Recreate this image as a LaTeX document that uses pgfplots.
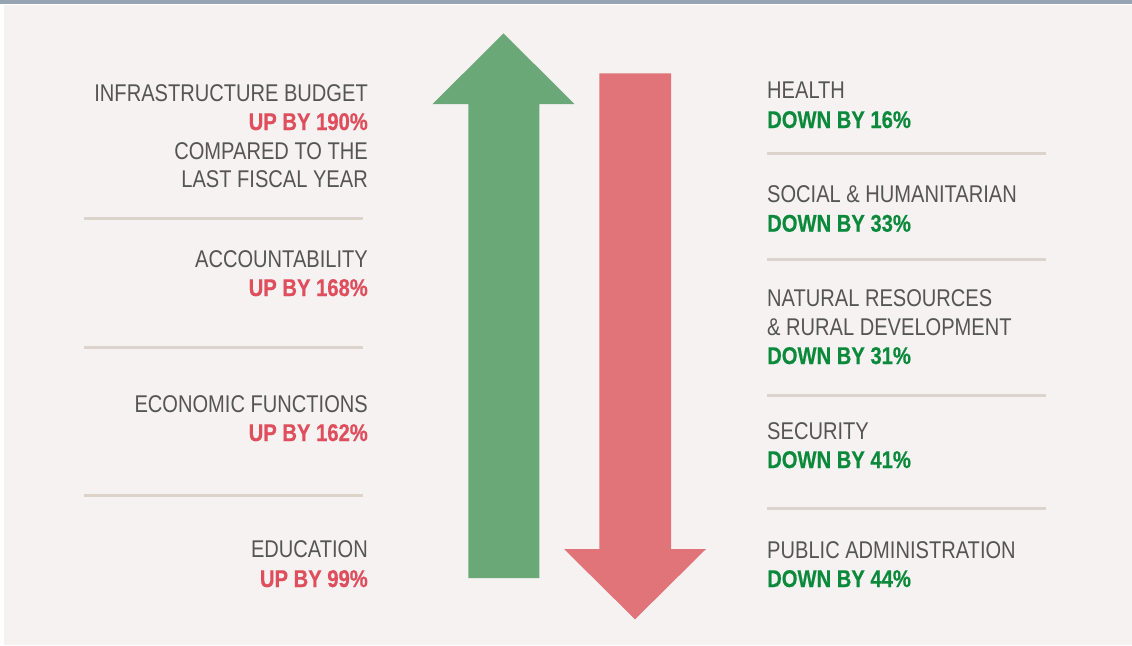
\documentclass[border=0pt]{standalone}
\usepackage{pgfplots}
\pgfplotsset{compat=1.18}
\usepackage{fontspec}
\setmainfont{Liberation Sans}[FakeStretch=0.83, BoldFeatures={FakeStretch=0.835, FakeBold=0.5}]
\definecolor{band}{HTML}{95A3B3}
\definecolor{panel}{HTML}{F6F2F1}
\definecolor{garrow}{HTML}{6BA878}
\definecolor{rarrow}{HTML}{E07479}
\definecolor{txtgray}{HTML}{555555}
\definecolor{txtred}{HTML}{DE4E5C}
\definecolor{txtgreen}{HTML}{0B8A3C}
\definecolor{sep}{HTML}{DCD3CC}
\newcommand{\lab}{\fontsize{24.2}{29}\selectfont}
\newcommand{\blab}{\fontsize{24.2}{29}\selectfont\bfseries}
\begin{document}
\begin{tikzpicture}
\begin{axis}[at={(0,0)}, anchor=south west, scale only axis,
  width=1132pt, height=645pt, xmin=0, xmax=1132, ymin=0, ymax=645,
  y dir=reverse, hide axis, clip=false]
% background
\addplot[fill=white, draw=none] coordinates {(0,0) (1132,0) (1132,645) (0,645)};
\addplot[fill=band, draw=none] coordinates {(0,0) (1132,0) (1132,4) (0,4)};
\addplot[fill=panel, draw=none] coordinates {(4,5) (1132,5) (1132,645) (4,645)};
% arrows
\addplot[fill=garrow, draw=none] coordinates {(432.7,104) (503.5,33.3) (574.3,104) (539.3,104) (539.3,578) (468.3,578) (468.3,104)};
\addplot[fill=rarrow, draw=none] coordinates {(599.3,73.3) (671,73.3) (671,549) (706,549) (635,619.3) (564,549) (599.3,549)};
% separators
\addplot[sep, line width=3pt] coordinates {(84,218) (363,218)};
\addplot[sep, line width=3pt] coordinates {(84,347) (363,347)};
\addplot[sep, line width=3pt] coordinates {(84,495.5) (363,495.5)};
\addplot[sep, line width=3pt] coordinates {(767,153.5) (1046,153.5)};
\addplot[sep, line width=3pt] coordinates {(767,259.5) (1046,259.5)};
\addplot[sep, line width=3pt] coordinates {(767,395) (1046,395)};
\addplot[sep, line width=3pt] coordinates {(767,508.5) (1046,508.5)};
% left texts
\node[anchor=base east, text=txtgray, font=\lab, inner sep=0pt] at (axis cs:368,101.5) {INFRASTRUCTURE BUDGET};
\node[anchor=base east, text=txtred, font=\blab, inner sep=0pt] at (axis cs:368,130) {UP BY 190\%};
\node[anchor=base east, text=txtgray, font=\lab, inner sep=0pt] at (axis cs:368,159) {COMPARED TO THE};
\node[anchor=base east, text=txtgray, font=\lab, inner sep=0pt] at (axis cs:368,187.5) {LAST FISCAL YEAR};
\node[anchor=base east, text=txtgray, font=\lab, inner sep=0pt] at (axis cs:368,267) {ACCOUNTABILITY};
\node[anchor=base east, text=txtred, font=\blab, inner sep=0pt] at (axis cs:368,296) {UP BY 168\%};
\node[anchor=base east, text=txtgray, font=\lab, inner sep=0pt] at (axis cs:368,412) {ECONOMIC FUNCTIONS};
\node[anchor=base east, text=txtred, font=\blab, inner sep=0pt] at (axis cs:368,441) {UP BY 162\%};
\node[anchor=base east, text=txtgray, font=\lab, inner sep=0pt] at (axis cs:368,557) {EDUCATION};
\node[anchor=base east, text=txtred, font=\blab, inner sep=0pt] at (axis cs:368,587) {UP BY 99\%};
% right texts
\node[anchor=base west, text=txtgray, font=\lab, inner sep=0pt] at (axis cs:767,98.3) {HEALTH};
\node[anchor=base west, text=txtgreen, font=\blab, inner sep=0pt] at (axis cs:767,128) {DOWN BY 16\%};
\node[anchor=base west, text=txtgray, font=\lab, inner sep=0pt] at (axis cs:767,202.7) {SOCIAL \& HUMANITARIAN};
\node[anchor=base west, text=txtgreen, font=\blab, inner sep=0pt] at (axis cs:767,231.7) {DOWN BY 33\%};
\node[anchor=base west, text=txtgray, font=\lab, inner sep=0pt] at (axis cs:767,306) {NATURAL RESOURCES};
\node[anchor=base west, text=txtgray, font=\lab, inner sep=0pt] at (axis cs:767,335) {\& RURAL DEVELOPMENT};
\node[anchor=base west, text=txtgreen, font=\blab, inner sep=0pt] at (axis cs:767,364) {DOWN BY 31\%};
\node[anchor=base west, text=txtgray, font=\lab, inner sep=0pt] at (axis cs:767,439) {SECURITY};
\node[anchor=base west, text=txtgreen, font=\blab, inner sep=0pt] at (axis cs:767,468) {DOWN BY 41\%};
\node[anchor=base west, text=txtgray, font=\lab, inner sep=0pt] at (axis cs:767,558) {PUBLIC ADMINISTRATION};
\node[anchor=base west, text=txtgreen, font=\blab, inner sep=0pt] at (axis cs:767,587) {DOWN BY 44\%};
\end{axis}
\end{tikzpicture}
\end{document}
